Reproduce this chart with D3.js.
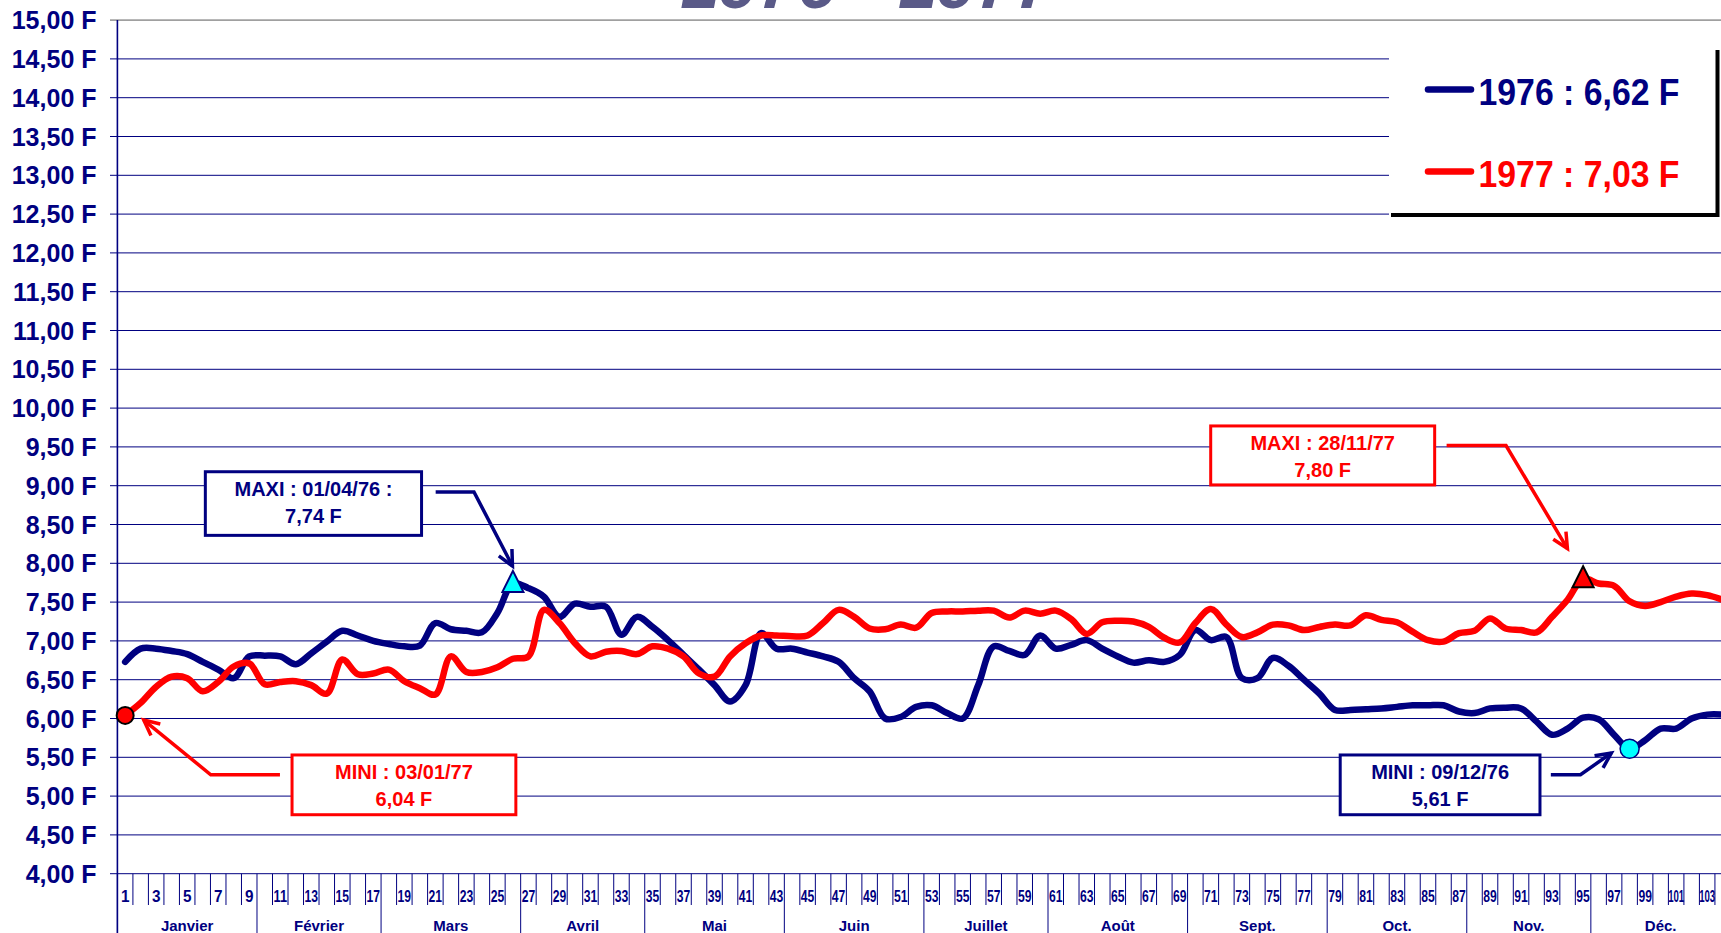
<!DOCTYPE html>
<html>
<head>
<meta charset="utf-8">
<script src="https://cdn.jsdelivr.net/npm/d3@7"></script>
<style>
  body { margin: 0; background: #fff; overflow: hidden; }
  text { font-family: "Liberation Sans", Arial, sans-serif; font-weight: bold; }
</style>
</head>
<body>
<div id="chart"></div>
<script>
// data
const days = d3.range(1, 105);
const monthNames = ["Janvier", "Février", "Mars", "Avril", "Mai", "Juin", "Juillet", "Août", "Sept.", "Oct.", "Nov.", "Déc."];
const monthLengths = [9, 8, 9, 8, 9, 9, 8, 9, 9, 9, 8, 9];
const yTicks = d3.range(4, 15.01, 0.5);

const prices1976 = [
  6.73, 6.90, 6.90, 6.87, 6.83, 6.73, 6.63, 6.52, 6.80, 6.81,
  6.80, 6.70, 6.84, 6.99, 7.13, 7.07, 7.00, 6.96, 6.93, 6.94,
  7.23, 7.15, 7.13, 7.11, 7.36, 7.74, 7.68, 7.57, 7.31, 7.48,
  7.44, 7.44, 7.08, 7.31, 7.18, 7.01, 6.82, 6.63, 6.43, 6.22,
  6.43, 7.10, 6.90, 6.90, 6.85, 6.80, 6.73, 6.52, 6.35, 6.00,
  6.02, 6.15, 6.17, 6.07, 6.00, 6.43, 6.93, 6.87, 6.82, 7.07,
  6.90, 6.95, 7.01, 6.90, 6.80, 6.72, 6.75, 6.73, 6.82, 7.14,
  7.01, 7.05, 6.52, 6.52, 6.78, 6.68, 6.50, 6.32, 6.11, 6.11,
  6.12, 6.13, 6.15, 6.17, 6.17, 6.17, 6.09, 6.07, 6.13, 6.14,
  6.13, 5.96, 5.79, 5.87, 6.01, 5.99, 5.79, 5.61, 5.72, 5.87,
  5.87, 6.00, 6.05, 6.05
];
const prices1977 = [
  6.04, 6.20, 6.41, 6.54, 6.52, 6.35, 6.47, 6.67, 6.71, 6.44,
  6.47, 6.48, 6.43, 6.32, 6.76, 6.57, 6.58, 6.63, 6.48, 6.39,
  6.31, 6.80, 6.60, 6.60, 6.66, 6.77, 6.80, 7.40, 7.23, 6.97,
  6.80, 6.86, 6.87, 6.83, 6.93, 6.90, 6.80, 6.58, 6.54, 6.80,
  6.97, 7.07, 7.07, 7.06, 7.07, 7.23, 7.40, 7.31, 7.16, 7.15,
  7.21, 7.17, 7.36, 7.38, 7.38, 7.39, 7.39, 7.30, 7.39, 7.35,
  7.39, 7.28, 7.09, 7.24, 7.26, 7.25, 7.18, 7.04, 6.98, 7.23,
  7.41, 7.21, 7.05, 7.11, 7.21, 7.20, 7.14, 7.18, 7.21, 7.20,
  7.33, 7.27, 7.24, 7.12, 7.01, 6.99, 7.10, 7.13, 7.29, 7.16,
  7.14, 7.11, 7.31, 7.53, 7.80, 7.74, 7.71, 7.51, 7.45, 7.50,
  7.57, 7.61, 7.59, 7.53
];
const legendLabels = ["1976 : 6,62 F", "1977 : 7,03 F"];
const titleText = "1976 - 1977";

const NAVY = "#000080";
const RED = "#ff0000";

// annotation boxes: x in band units, y in francs
const notes = [
  { lines: ["MAXI : 01/04/76 :", "7,74 F"], color: NAVY, box: [5.67, 19.61, 9.18, 8.36],
    arrow: [[20.52, 8.92], [22.99, 8.92], [25.47, 7.965]] },
  { lines: ["MINI : 03/01/77", "6,04 F"], color: RED, box: [11.26, 25.69, 5.53, 4.76],
    arrow: [[10.48, 5.275], [6.02, 5.275], [1.70, 5.98]] },
  { lines: ["MAXI : 28/11/77", "7,80 F"], color: RED, box: [70.49, 84.93, 9.77, 9.01],
    arrow: [[85.70, 9.517], [89.53, 9.517], [93.49, 8.19]] },
  { lines: ["MINI : 09/12/76", "5,61 F"], color: NAVY, box: [78.84, 91.72, 5.53, 4.76],
    arrow: [[92.42, 5.275], [94.33, 5.275], [96.32, 5.555]] }
];

const width = 1721, height = 933;
const left = 117.4, bw = 15.51;

const svg = d3.select("#chart").append("svg")
  .attr("width", width)
  .attr("height", height);

const xBand = d3.scaleBand().domain(days).range([left, left + days.length * bw]).padding(0);
const xc = d => xBand(d) + xBand.bandwidth() / 2;
const xu = d3.scaleLinear().domain([0, days.length]).range(xBand.range());
const y = d3.scaleLinear().domain([4, 15]).range([873.7, 20.1]);
const fmt = v => d3.format(".2f")(v).replace(".", ",") + " F";

// title (cut off at the top)
svg.append("text")
  .attr("x", 867).attr("y", 8)
  .attr("text-anchor", "middle")
  .attr("font-size", 70)
  .attr("font-style", "italic")
  .attr("fill", "#5a5a88")
  .text(titleText);

// gridlines + y ticks
svg.append("g").selectAll("line")
  .data(yTicks)
  .join("line")
  .attr("x1", 110).attr("x2", width)
  .attr("y1", d => y(d)).attr("y2", d => y(d))
  .attr("stroke", d => d === 15 ? "#a0a0a0" : NAVY)
  .attr("stroke-width", d => d === 15 ? 1.6 : 1);

svg.append("g").selectAll("text")
  .data(yTicks)
  .join("text")
  .attr("x", 96.5)
  .attr("y", d => y(d) + 9)
  .attr("text-anchor", "end")
  .attr("font-size", 25)
  .attr("fill", NAVY)
  .text(fmt);

// x axis: band ticks, labels, months
const boundaries = d3.range(0, days.length + 1);
const monthStarts = [0, ...d3.cumsum(monthLengths)];
svg.append("g").selectAll("line")
  .data(boundaries)
  .join("line")
  .attr("x1", d => xu(d)).attr("x2", d => xu(d))
  .attr("y1", y(4))
  .attr("y2", d => monthStarts.includes(d) ? height : 905)
  .attr("stroke", NAVY)
  .attr("stroke-width", 1);

svg.append("g").selectAll("text")
  .data(days.filter(d => d % 2 === 1))
  .join("text")
  .attr("x", xc)
  .attr("y", 902)
  .attr("text-anchor", "middle")
  .attr("font-size", 16)
  .attr("fill", NAVY)
  .attr("lengthAdjust", "spacingAndGlyphs")
  .attr("textLength", d => d < 10 ? 8.5 : d < 100 ? 13.5 : 16)
  .text(d => d);

svg.append("g").selectAll("text")
  .data(monthNames)
  .join("text")
  .attr("x", (d, i) => xu((monthStarts[i] + monthStarts[i + 1]) / 2))
  .attr("y", 931)
  .attr("text-anchor", "middle")
  .attr("font-size", 15)
  .attr("fill", NAVY)
  .text(d => d);

// y axis line
svg.append("line")
  .attr("x1", left).attr("x2", left)
  .attr("y1", y(15)).attr("y2", height)
  .attr("stroke", NAVY)
  .attr("stroke-width", 1.6);

// legend box
const legend = svg.append("g");
legend.append("rect")
  .attr("x", 1389).attr("y", 50)
  .attr("width", width - 1389).attr("height", 165)
  .attr("fill", "#fff");
legend.append("path")
  .attr("d", "M1391,215 H1717.5 V50")
  .attr("fill", "none")
  .attr("stroke", "#000")
  .attr("stroke-width", 4);

// lines
const line = d3.line()
  .x((d, i) => xc(days[i]))
  .y(d => y(d))
  .curve(d3.curveCatmullRom.alpha(0.5));

const series = [
  { values: prices1976, color: NAVY },
  { values: prices1977, color: RED }
];
svg.append("g").selectAll("path")
  .data(series)
  .join("path")
  .attr("d", d => line(d.values))
  .attr("fill", "none")
  .attr("stroke", d => d.color)
  .attr("stroke-width", 6.5)
  .attr("stroke-linejoin", "round")
  .attr("stroke-linecap", "round");

legend.selectAll(".leg-line")
  .data(series)
  .join("line")
  .attr("class", "leg-line")
  .attr("x1", 1428).attr("x2", 1471)
  .attr("y1", (d, i) => 89.5 + i * 82).attr("y2", (d, i) => 89.5 + i * 82)
  .attr("stroke", d => d.color)
  .attr("stroke-width", 6.5)
  .attr("stroke-linecap", "round");

legend.selectAll(".leg-text")
  .data(series)
  .join("text")
  .attr("class", "leg-text")
  .attr("x", 1478.5)
  .attr("y", (d, i) => 104.5 + i * 82)
  .attr("font-size", 37)
  .attr("fill", d => d.color)
  .attr("lengthAdjust", "spacingAndGlyphs")
  .attr("textLength", 201)
  .text((d, i) => legendLabels[i]);

// min / max markers
const tri = (cx, cy, s) => `M${cx},${cy - s * 0.6} L${cx + s / 2},${cy + s * 0.4} L${cx - s / 2},${cy + s * 0.4} Z`;
svg.append("circle")
  .attr("cx", xc(1)).attr("cy", y(prices1977[0])).attr("r", 8.5)
  .attr("fill", RED).attr("stroke", "#000").attr("stroke-width", 2);
svg.append("path")
  .attr("d", tri(xc(26), y(prices1976[25]), 21))
  .attr("fill", "#00ffff").attr("stroke", NAVY).attr("stroke-width", 2);
svg.append("path")
  .attr("d", tri(xc(95), y(prices1977[94]), 21))
  .attr("fill", RED).attr("stroke", "#000").attr("stroke-width", 2);
svg.append("circle")
  .attr("cx", xc(98)).attr("cy", y(prices1976[97])).attr("r", 9.5)
  .attr("fill", "#00ffff").attr("stroke", NAVY).attr("stroke-width", 1.5);

// callouts
notes.forEach(n => {
  const [u0, u1, v0, v1] = n.box;
  const g = svg.append("g");
  g.append("rect")
    .attr("x", xu(u0)).attr("y", y(v0))
    .attr("width", xu(u1) - xu(u0)).attr("height", y(v1) - y(v0))
    .attr("fill", "#fff")
    .attr("stroke", n.color)
    .attr("stroke-width", 3);
  n.lines.forEach((t, i) => {
    g.append("text")
      .attr("x", (xu(u0) + xu(u1)) / 2)
      .attr("y", y(v0) + 24 + i * 27)
      .attr("text-anchor", "middle")
      .attr("font-size", 20)
      .attr("fill", n.color)
      .text(t);
  });
  const pts = n.arrow.map(([u, v]) => [xu(u), y(v)]);
  g.append("path")
    .attr("d", d3.line()(pts))
    .attr("fill", "none")
    .attr("stroke", n.color)
    .attr("stroke-width", 3.5);
  // open arrow head
  const [ax, ay] = pts[pts.length - 2];
  const [bx, by] = pts[pts.length - 1];
  const ang = Math.atan2(by - ay, bx - ax);
  const head = [-0.45, 0.45].map(a => [bx - 17 * Math.cos(ang + a), by - 17 * Math.sin(ang + a)]);
  g.append("path")
    .attr("d", d3.line()([head[0], [bx, by], head[1]]))
    .attr("fill", "none")
    .attr("stroke", n.color)
    .attr("stroke-width", 3.5);
});
</script>
</body>
</html>
